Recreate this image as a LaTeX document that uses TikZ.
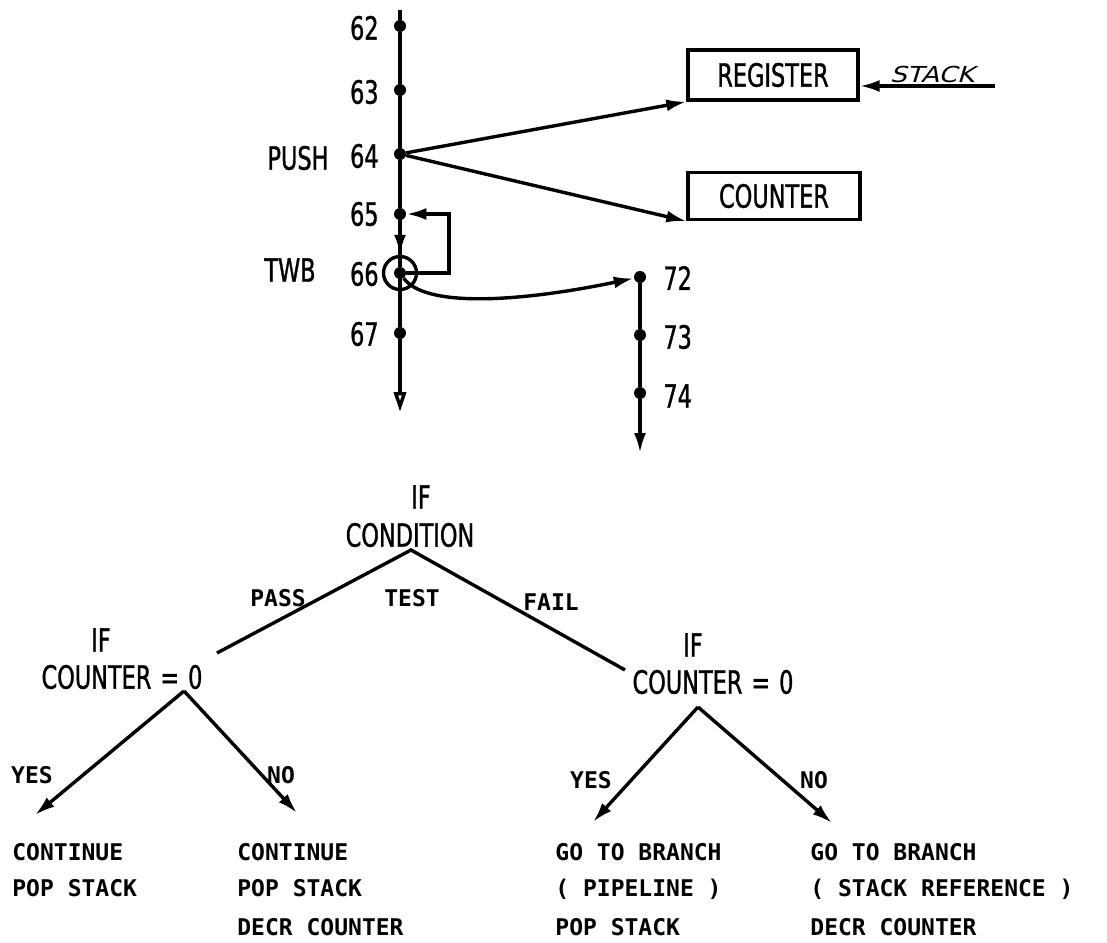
\documentclass[tikz,border=0pt]{standalone}
\usepackage{fontspec}
\setmainfont{DejaVu Sans}
\newfontfamily\cond[FakeStretch=0.7,FakeBold=1]{DejaVu Sans}
\newfontfamily\mono{DejaVu Sans Mono}
\newfontfamily\hand[FakeStretch=1.2,FakeSlant=0.3]{DejaVu Sans}
\usetikzlibrary{arrows.meta}
\newcommand{\eqgap}{\hspace{4.5pt}}
\begin{document}
\begin{tikzpicture}[x=0.5pt,y=-0.5pt,
  ln/.style={line width=1.7pt},
  arr/.style={ln,-{Latex[length=10pt,width=6pt]}},
  oarr/.style={ln,-{Triangle[open,length=10pt,width=6pt]}},
  dot/.style={circle,fill,inner sep=0pt,minimum size=6pt},
  lab/.style={font=\cond\fontsize{16}{19}\selectfont,inner sep=0pt},
  sm/.style={font=\mono\bfseries\fontsize{11.5}{14}\selectfont,inner sep=0pt},
  regbox/.style={draw,ln,inner sep=0pt,font=\cond\fontsize{16}{19}\selectfont}
]
\useasboundingbox (0,0) rectangle (1107,942);

% ---- main vertical line
\coordinate (top) at (400,10);
\coordinate (bot) at (400,412);
\node[dot] (d62) at (400,26) {};
\node[dot] (d63) at (400,90) {};
\node[dot] (d64) at (400,154) {};
\node[dot] (d65) at (400,214) {};
\node[dot] (d66) at (400,273) {};
\node[dot] (d67) at (400,333) {};
\node[circle,draw,ln,minimum size=16.5pt,inner sep=0pt] (c66) at (400,273) {};

\node[lab,anchor=east] (l62) at (379,28) {62};
\node[lab,anchor=east] (l63) at (379,92) {63};
\node[lab,anchor=east] (l64) at (379,156) {64};
\node[lab,anchor=east] (l65) at (379,214) {65};
\node[lab,anchor=east] (l66) at (379,274) {66};
\node[lab,anchor=east] (l67) at (379,334) {67};
\node[lab] (push) at (298,158) {PUSH};
\node[lab] (twb) at (290,270) {TWB};

\draw[ln] (top) -- (d62) -- (d63) -- (d64) -- (d65) -- (d66) -- (d67);
\draw[arr] (d65) -- (c66.north);
\draw[oarr] (d67) -- (bot);

% loop 66 -> 65
\coordinate (lp1) at (449,273);
\coordinate (lp2) at (449,214);
\draw[arr] (d66.east) -- (lp1) -- (lp2) -- (d65.east);

% boxes
\node[regbox,minimum width=85pt,minimum height=25pt] (reg) at (773,75) {REGISTER};
\node[regbox,minimum width=86pt,minimum height=23.5pt] (cnt) at (774,196) {COUNTER};
\draw[arr] (d64) -- (reg.south west);
\draw[arr] (d64) -- (cnt.south west);

% stack input
\coordinate (stk) at (995,86);
\draw[arr] (stk) -- (stk -| reg.east);
\node[inner sep=0pt,font=\hand\fontsize{11}{13}\selectfont] (stklab) at (932,74) {STACK};

% branch 72
\node[dot] (d72) at (640,277) {};
\node[dot] (d73) at (640,335) {};
\node[dot] (d74) at (640,393) {};
\coordinate (bot2) at (640,453);
\node[lab,anchor=west] (l72) at (663,278) {72};
\node[lab,anchor=west] (l73) at (663,337) {73};
\node[lab,anchor=west] (l74) at (663,396) {74};
\draw[ln] (d72) -- (d73) -- (d74);
\draw[arr] (d74) -- (bot2);
\draw[arr] (d66) .. controls (425,308) and (520,302) .. (d72);

% ---- decision tree
\node[lab] (if0) at (421,497) {IF};
\node[lab] (cond) at (410,535) {CONDITION};
\coordinate (a0) at (411,550);
\coordinate (bl) at (217,653);
\coordinate (br) at (625,670);
\draw[ln] (bl) -- (a0) -- (br);
\node[sm] (pass) at (278,598) {PASS};
\node[sm] (test) at (412,598) {TEST};
\node[sm] (fail) at (551,602) {FAIL};

\node[lab] (ifl) at (101,640) {IF};
\node[lab] (cntl) at (122,677) {COUNTER\eqgap=\eqgap 0};
\coordinate (al) at (184,691);
\coordinate (tyl) at (35,815);
\coordinate (tnl) at (297,813);
\draw[arr] (al) -- (tyl);
\draw[arr] (al) -- (tnl);
\node[sm] (yesl) at (32,775) {YES};
\node[sm] (nol) at (281,775) {NO};

\node[lab] (ifr) at (693,645) {IF};
\node[lab] (cntr) at (713,682) {COUNTER\eqgap=\eqgap 0};
\coordinate (ar) at (698,707);
\coordinate (tyr) at (593,822);
\coordinate (tnr) at (832,823);
\draw[arr] (ar) -- (tyr);
\draw[arr] (ar) -- (tnr);
\node[sm] (yesr) at (591,780) {YES};
\node[sm] (nor) at (814,780) {NO};

% ---- outcomes
\node[sm,anchor=base west] (o11) at (12,860) {CONTINUE};
\node[sm,anchor=base west] (o12) at (12,896) {POP STACK};
\node[sm,anchor=base west] (o21) at (237,860) {CONTINUE};
\node[sm,anchor=base west] (o22) at (237,896) {POP STACK};
\node[sm,anchor=base west] (o23) at (237,935) {DECR COUNTER};
\node[sm,anchor=base west] (o31) at (555,860) {GO TO BRANCH};
\node[sm,anchor=base west] (o32) at (555,896) {( PIPELINE )};
\node[sm,anchor=base west] (o33) at (555,935) {POP STACK};
\node[sm,anchor=base west] (o41) at (810,860) {GO TO BRANCH};
\node[sm,anchor=base west] (o42) at (810,896) {( STACK REFERENCE )};
\node[sm,anchor=base west] (o43) at (810,935) {DECR COUNTER};
\end{tikzpicture}
\end{document}
